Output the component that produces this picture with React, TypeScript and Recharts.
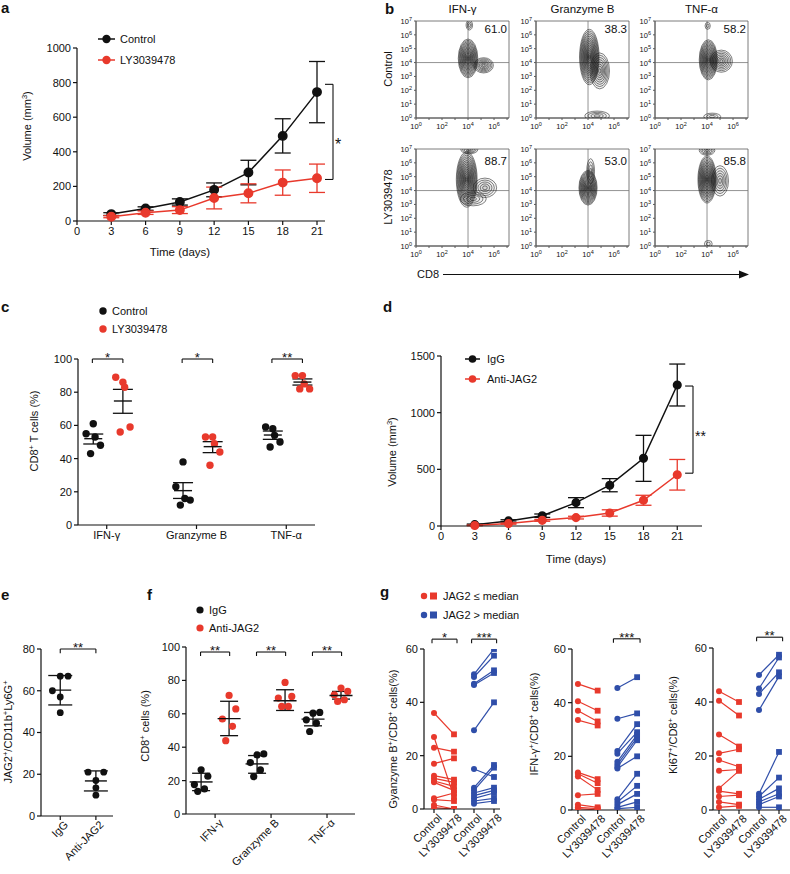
import React from 'react';
import {
  LineChart,
  Line,
  ScatterChart,
  Scatter,
  XAxis,
  YAxis,
  ErrorBar,
  ReferenceLine,
  ReferenceArea,
} from 'recharts';

const FONT = '"Liberation Sans", Arial, Helvetica, sans-serif';
const BLACK = '#111111';
const RED = '#e8392c';
const BLUE = '#2f4ea9';
const FLOW_LINE = '#5a5a5a';

// a: tumour volume, control vs LY3039478
const daysA = [3, 6, 9, 12, 15, 18, 21];
const ctrlA = [40, 72, 110, 180, 280, 492, 745];
const ctrlAErr = [8, 10, 18, 40, 71, 99, 177];
const lyA = [25, 48, 63, 133, 160, 222, 247];
const lyAErr = [6, 10, 20, 63, 55, 73, 82];
const dayTicks = [0, 3, 6, 9, 12, 15, 18, 21];

// d: tumour volume, IgG vs anti-JAG2
const iggD = [12, 45, 91, 206, 360, 597, 1244];
const iggDErr = [5, 10, 15, 44, 58, 203, 185];
const antiD = [5, 21, 50, 74, 115, 227, 452];
const antiDErr = [3, 5, 8, 12, 28, 44, 135];

// b: flow contour blobs (log10 centre, radii in decades, ring count)
const flowCtrlIfn = [
  { x: 4.0, y: 4.3, rx: 0.75, ry: 1.4, n: 15 },
  { x: 5.2, y: 3.8, rx: 0.75, ry: 0.55, n: 7 },
  { x: 4.1, y: 6.7, rx: 0.25, ry: 0.35, n: 3 },
];
const flowCtrlGzm = [
  { x: 4.1, y: 4.4, rx: 0.75, ry: 2.0, n: 16 },
  { x: 4.9, y: 3.4, rx: 0.75, ry: 1.3, n: 8 },
  { x: 4.7, y: 0.15, rx: 0.95, ry: 0.35, n: 4 },
];
const flowCtrlTnf = [
  { x: 4.1, y: 4.2, rx: 0.7, ry: 1.45, n: 15 },
  { x: 5.1, y: 4.1, rx: 0.85, ry: 0.8, n: 7 },
  { x: 4.05, y: 6.65, rx: 0.2, ry: 0.25, n: 2 },
  { x: 4.4, y: 0.1, rx: 0.65, ry: 0.25, n: 3 },
];
const flowLyIfn = [
  { x: 3.9, y: 4.8, rx: 0.8, ry: 2.0, n: 16 },
  { x: 4.1, y: 6.95, rx: 0.65, ry: 0.3, n: 5 },
  { x: 5.3, y: 4.2, rx: 0.9, ry: 0.7, n: 5 },
  { x: 4.4, y: 3.4, rx: 1.0, ry: 0.5, n: 4 },
];
const flowLyGzm = [
  { x: 4.0, y: 4.2, rx: 0.7, ry: 1.25, n: 15 },
  { x: 4.2, y: 5.4, rx: 0.3, ry: 0.9, n: 4 },
];
const flowLyTnf = [
  { x: 4.0, y: 4.8, rx: 0.7, ry: 1.7, n: 16 },
  { x: 4.0, y: 6.9, rx: 0.6, ry: 0.35, n: 5 },
  { x: 5.0, y: 4.7, rx: 0.65, ry: 1.1, n: 6 },
  { x: 4.1, y: 0.15, rx: 0.3, ry: 0.25, n: 2 },
];
const flowTitles = ['IFN-γ', 'Granzyme B', 'TNF-α'];
const flowPctCtrl = ['61.0', '38.3', '58.2'];
const flowPctLy = ['88.7', '53.0', '85.8'];

// c: CD8+ T cells (%)
const cytokines = ['IFN-γ', 'Granzyme B', 'TNF-α'];
const cCtrl = [[61, 55, 53, 48, 43], [38, 23, 16, 15, 12], [58, 59, 54, 50, 47]];
const cLy = [[86, 89, 83, 59, 56], [53, 53, 49, 44, 36], [90, 90, 85, 82, 82]];
const cCtrlMean = [52, 20.7, 54.2];
const cCtrlSem = [[48.8, 54.8], [16, 25.5], [51.6, 56.6]];
const cLyMean = [74.7, 47.2, 86.1];
const cLySem = [[67.3, 81.7], [43.6, 50.2], [84.3, 88]];
const cSig = ['*', '*', '**'];

// e: JAG2+ of CD11b+Ly6G+
const eGroups = ['IgG', 'Anti-JAG2'];
const eVals = [[67, 67, 60, 57, 49.5], [17, 21, 21, 10, 13.5]];
const eMean = [60.3, 16.8];
const eSd = [[53.2, 67.3], [12, 21.6]];

// f: CD8+ cells (%)
const fIgg = [[26.5, 22.6, 17.6, 15, 13.6], [35.4, 36, 30.8, 26.4, 22.4], [60.4, 60.8, 56.4, 54.4, 49.4]];
const fAnti = [[71, 62.9, 56.9, 52.5, 43.9], [78.8, 70.4, 69.4, 64.4, 64.4], [75.4, 73.4, 71.4, 68.4, 67.4]];
const fIggMean = [19.2, 30, 56.8];
const fIggSd = [[14, 24.4], [24.4, 35], [52.8, 60.8]];
const fAntiMean = [57.1, 67.8, 71];
const fAntiSd = [[46.9, 67.5], [62, 74.4], [68.8, 73.4]];

// g: paired patient samples (control -> LY3039478)
const gLabels = ['', 'Control', 'LY3039478', 'Control', 'LY3039478'];
const gGzmRedCtrl = [36, 27, 23, 17, 12.5, 11.5, 10.5, 10, 4, 3.5, 1.5, 0.5];
const gGzmRedLy = [28, 4.5, 21.5, 19, 11, 10, 8.5, 7, 6, 3, 0, 0];
const gGzmBlueCtrl = [50.5, 49.5, 47, 46.5, 29.5, 15, 8, 7, 6, 5, 4, 3, 2];
const gGzmBlueLy = [60, 57.5, 52, 51, 40, 12, 16.5, 15.5, 8, 7, 6, 4, 3];
const gIfnRedCtrl = [47, 40.5, 37, 33.5, 14, 13.5, 12.5, 5.5, 2, 1, 0.5];
const gIfnRedLy = [44.5, 37, 33, 31.5, 11.5, 10, 7.5, 6, 1, 0.5, 0];
const gIfnBlueCtrl = [45.5, 34, 22, 21, 18, 17, 16, 15.5, 4, 3, 2, 1, 0.5];
const gIfnBlueLy = [49.5, 36, 32, 29, 28, 27, 26, 20, 13.5, 9, 6, 3, 1];
const gKiRedCtrl = [44, 40.5, 28, 21, 18.5, 14.5, 8, 7, 5, 3, 1];
const gKiRedLy = [40, 35, 23.5, 22.5, 16, 15, 14.5, 6, 5.5, 2, 1.5];
const gKiBlueCtrl = [50, 45, 43, 37, 6, 5, 4, 3, 2, 1];
const gKiBlueLy = [57.5, 56.5, 51, 49.5, 21.5, 12, 8, 6, 5, 1];

const aData = daysA.map((d, i) => ({ day: d, ctrl: ctrlA[i], ctrlErr: ctrlAErr[i], ly: lyA[i], lyErr: lyAErr[i] }));
const dData = daysA.map((d, i) => ({ day: d, igg: iggD[i], iggErr: iggDErr[i], anti: antiD[i], antiErr: antiDErr[i] }));

const ax = {
  stroke: BLACK,
  axisLine: { stroke: BLACK, strokeWidth: 1.2 },
  tickLine: { stroke: BLACK, strokeWidth: 1.2 },
  tick: { fill: BLACK, fontSize: 11, fontFamily: FONT },
  tickSize: 4,
};

const bracket = (key: string, x1: number, x2: number, y: number, drop: number, text: string, fs = 13) => [
  <ReferenceLine key={key + 'l'} segment={[{ x: x1, y: y - drop }, { x: x1, y }]} stroke={BLACK} strokeWidth={1.1} ifOverflow="visible" />,
  <ReferenceLine
    key={key + 'm'}
    segment={[{ x: x1, y }, { x: x2, y }]}
    stroke={BLACK}
    strokeWidth={1.1}
    ifOverflow="visible"
    label={{ value: text, position: 'top', offset: -3, fill: BLACK, fontSize: fs, fontFamily: FONT }}
  />,
  <ReferenceLine key={key + 'r'} segment={[{ x: x2, y }, { x: x2, y: y - drop }]} stroke={BLACK} strokeWidth={1.1} ifOverflow="visible" />,
];

const sideBracket = (key: string, x1: number, x2: number, yTop: number, yBot: number) => [
  <ReferenceLine key={key + 't'} segment={[{ x: x1, y: yTop }, { x: x2, y: yTop }]} stroke={BLACK} strokeWidth={1.1} ifOverflow="visible" />,
  <ReferenceLine key={key + 'v'} segment={[{ x: x2, y: yTop }, { x: x2, y: yBot }]} stroke={BLACK} strokeWidth={1.1} ifOverflow="visible" />,
  <ReferenceLine key={key + 'b'} segment={[{ x: x2, y: yBot }, { x: x1, y: yBot }]} stroke={BLACK} strokeWidth={1.1} ifOverflow="visible" />,
];

const rotTick = (labels: string[]) => (p: any) => (
  <g transform={`translate(${p.x + 3},${p.y - 2}) rotate(-45)`}>
    <text textAnchor="end" dy="0.71em" fontSize={11} fill={BLACK} fontFamily={FONT}>
      {labels[p.payload.value]}
    </text>
  </g>
);

function VolumeChart(props: { data: any[]; left: number; top: number; width: number; height: number; margin: any; xMax: number; yMax: number; yTicks: number[]; keys: string[]; r: number; bracketEnds: number[] }) {
  const { data, left, top, width, height, margin, xMax, yMax, yTicks, keys, r, bracketEnds } = props;
  return (
    <div style={{ position: 'absolute', left, top }}>
      <LineChart width={width} height={height} data={data} margin={margin}>
        <XAxis type="number" dataKey="day" domain={[0, xMax]} ticks={dayTicks} interval={0} height={30} allowDataOverflow {...ax} />
        <YAxis type="number" domain={[0, yMax]} ticks={yTicks} interval={0} width={45} {...ax} />
        {sideBracket('s', 21.7, 22.4, bracketEnds[0], bracketEnds[1])}
        <Line dataKey={keys[0]} stroke={BLACK} strokeWidth={1.5} dot={{ r, fill: BLACK, stroke: BLACK }} isAnimationActive={false}>
          <ErrorBar dataKey={keys[0] + 'Err'} direction="y" width={8} stroke={BLACK} strokeWidth={1.3} />
        </Line>
        <Line dataKey={keys[1]} stroke={RED} strokeWidth={1.5} dot={{ r, fill: RED, stroke: RED }} isAnimationActive={false}>
          <ErrorBar dataKey={keys[1] + 'Err'} direction="y" width={8} stroke={RED} strokeWidth={1.3} />
        </Line>
      </LineChart>
    </div>
  );
}

// flow plots
const FLOW_W = 93;
const FLOW_H = 97;
const FLOW_XMAX = 7.15;
const FLOW_YMAX = 7;
const FLOW_PAD = 6;
const PX_X = FLOW_W / FLOW_XMAX;
const PX_Y = FLOW_H / FLOW_YMAX;

const ContourShape = (p: any) => {
  const { cx, cy, payload } = p;
  const rings = [];
  for (let i = 0; i < payload.n; i++) {
    const s = 1 - i / payload.n;
    rings.push(
      <ellipse
        key={i}
        cx={cx}
        cy={cy}
        rx={payload.rx * PX_X * s}
        ry={payload.ry * PX_Y * s}
        fill="#000"
        fillOpacity={0.035}
        stroke="#1c1c1c"
        strokeWidth={0.55}
      />
    );
  }
  return <g>{rings}</g>;
};

const FlowYTick = (p: any) => (
  <text x={p.x} y={p.y} dy={3} textAnchor="end" fontSize={7.5} fill={BLACK} fontFamily={FONT}>
    10<tspan dy={-3} fontSize={5.5}>{p.payload.value}</tspan>
  </text>
);

const FlowXTick = (p: any) =>
  p.payload.value % 2 === 0 ? (
    <text x={p.x} y={p.y} dy={7} textAnchor="middle" fontSize={7.5} fill={BLACK} fontFamily={FONT}>
      10<tspan dy={-3} fontSize={5.5}>{p.payload.value}</tspan>
    </text>
  ) : (
    <g />
  );

function FlowPlot(props: { left: number; top: number; pops: any[] }) {
  const { left, top, pops } = props;
  return (
    <div style={{ position: 'absolute', left: left - 25, top: top - FLOW_PAD }}>
      <ScatterChart width={25 + FLOW_W + 5} height={FLOW_PAD + FLOW_H + 16} margin={{ top: FLOW_PAD, right: 5, left: 0, bottom: 0 }}>
        <XAxis type="number" dataKey="x" domain={[0, FLOW_XMAX]} ticks={[0, 1, 2, 3, 4, 5, 6, 7]} interval={0} height={16} tickSize={2} stroke={FLOW_LINE} tick={FlowXTick} allowDataOverflow />
        <YAxis type="number" dataKey="y" domain={[0, FLOW_YMAX]} ticks={[0, 1, 2, 3, 4, 5, 6, 7]} interval={0} width={25} tickSize={2} stroke={FLOW_LINE} tick={FlowYTick} allowDataOverflow />
        <ReferenceArea x1={0} x2={FLOW_XMAX} y1={0} y2={FLOW_YMAX} fill="none" stroke={FLOW_LINE} strokeWidth={0.8} />
        <ReferenceLine x={4} stroke="#777" strokeWidth={0.8} />
        <ReferenceLine y={4} stroke="#777" strokeWidth={0.8} />
        <Scatter data={pops} shape={ContourShape} isAnimationActive={false} />
      </ScatterChart>
    </div>
  );
}

// dot plots with mean and error
const dotsFrom = (groups: number[][], offset: number, jit: number[]) =>
  groups.flatMap((vals, i) => vals.map((v, j) => ({ x: i + offset + jit[j % jit.length], y: v })));
const summaryFrom = (means: number[], bounds: number[][], offset: number) =>
  means.map((m, i) => ({ x: i + offset, y: m, err: [m - bounds[i][0], bounds[i][1] - m] }));

const dotShape = (color: string, r: number) => (p: any) => <circle cx={p.cx} cy={p.cy} r={r} fill={color} />;
const meanBar = (hw: number) => (p: any) => (
  <line x1={p.cx - hw} x2={p.cx + hw} y1={p.cy} y2={p.cy} stroke={BLACK} strokeWidth={1.4} />
);

type Group = { vals: number[][]; mean: number[]; bounds: number[][]; color: string; offset: number };

function DotPanel(props: {
  left: number; top: number; width: number; height: number; margin: any; yW: number; xH: number;
  xDomain: number[]; yDomain: number[]; yTicks: number[]; cats: string[]; rotate: boolean;
  groups: Group[]; jit: number[]; meanHW: number; capW: number; dotR: number; brackets: any[];
}) {
  const p = props;
  const tick = p.rotate ? rotTick(p.cats) : { ...ax.tick };
  return (
    <div style={{ position: 'absolute', left: p.left, top: p.top }}>
      <ScatterChart width={p.width} height={p.height} margin={p.margin}>
        <XAxis
          type="number"
          dataKey="x"
          domain={p.xDomain}
          ticks={p.cats.map((_, i) => i)}
          tickFormatter={(v: number) => p.cats[v]}
          interval={0}
          height={p.xH}
          allowDataOverflow
          {...ax}
          tick={tick}
        />
        <YAxis type="number" dataKey="y" domain={p.yDomain} ticks={p.yTicks} interval={0} width={p.yW} {...ax} />
        {p.brackets}
        {p.groups.map((g, k) => (
          <Scatter key={'d' + k} data={dotsFrom(g.vals, g.offset, p.jit)} shape={dotShape(g.color, p.dotR)} isAnimationActive={false} />
        ))}
        {p.groups.map((g, k) => (
          <Scatter key={'m' + k} data={summaryFrom(g.mean, g.bounds, g.offset)} shape={meanBar(p.meanHW)} isAnimationActive={false}>
            <ErrorBar dataKey="err" direction="y" width={p.capW} stroke={BLACK} strokeWidth={1.3} />
          </Scatter>
        ))}
      </ScatterChart>
    </div>
  );
}

// paired line plots
const pairDot = (color: string) => (p: any) =>
  p.index === 0 ? (
    <circle key={'c' + p.index} cx={p.cx} cy={p.cy} r={3} fill={color} />
  ) : (
    <rect key={'r' + p.index} x={p.cx - 2.9} y={p.cy - 2.9} width={5.8} height={5.8} fill={color} />
  );

function PairPanel(props: {
  left: number; width: number; margin: any; xDomain: number[];
  redCtrl: number[]; redLy: number[]; blueCtrl: number[]; blueLy: number[]; brackets: any[];
}) {
  const p = props;
  const pairs = [
    ...p.redCtrl.map((v, i) => ({ color: RED, data: [{ x: 1, v }, { x: 2, v: p.redLy[i] }] })),
    ...p.blueCtrl.map((v, i) => ({ color: BLUE, data: [{ x: 3, v }, { x: 4, v: p.blueLy[i] }] })),
  ];
  return (
    <div style={{ position: 'absolute', left: p.left, top: 580 }}>
      <LineChart width={p.width} height={294} margin={p.margin}>
        <XAxis type="number" dataKey="x" domain={p.xDomain} ticks={[1, 2, 3, 4]} interval={0} height={60} allowDataOverflow {...ax} tick={rotTick(gLabels)} />
        <YAxis type="number" domain={[0, 60]} ticks={[0, 20, 40, 60]} interval={0} width={28} allowDataOverflow {...ax} />
        {p.brackets}
        {pairs.map((pr, i) => (
          <Line key={i} data={pr.data} dataKey="v" stroke={pr.color} strokeWidth={1.2} dot={pairDot(pr.color)} isAnimationActive={false} />
        ))}
      </LineChart>
    </div>
  );
}

const txt = { fontFamily: FONT, fill: BLACK };

function VLabel(props: { x: number; y: number; children: any; size?: number }) {
  return (
    <text transform={`translate(${props.x},${props.y}) rotate(-90)`} textAnchor="middle" fontSize={props.size || 11} {...txt}>
      {props.children}
    </text>
  );
}

const sup = (s: string) => (
  <tspan baselineShift="super" fontSize={7.5}>
    {s}
  </tspan>
);

const flowLeft = [416, 536, 655];
const flowTop = [21, 149];

export default function App() {
  return (
    <div style={{ position: 'absolute', left: 0, top: 0, width: 790, height: 874, background: '#fff', fontFamily: FONT }}>
      <VolumeChart
        data={aData}
        left={0}
        top={0}
        width={345}
        height={262}
        margin={{ top: 48, right: 20, left: 32, bottom: 11 }}
        xMax={21.7}
        yMax={1000}
        yTicks={[0, 200, 400, 600, 800, 1000]}
        keys={['ctrl', 'ly']}
        r={4.2}
        bracketEnds={[790, 240]}
      />

      <FlowPlot left={flowLeft[0]} top={flowTop[0]} pops={flowCtrlIfn} />
      <FlowPlot left={flowLeft[1]} top={flowTop[0]} pops={flowCtrlGzm} />
      <FlowPlot left={flowLeft[2]} top={flowTop[0]} pops={flowCtrlTnf} />
      <FlowPlot left={flowLeft[0]} top={flowTop[1]} pops={flowLyIfn} />
      <FlowPlot left={flowLeft[1]} top={flowTop[1]} pops={flowLyGzm} />
      <FlowPlot left={flowLeft[2]} top={flowTop[1]} pops={flowLyTnf} />

      <DotPanel
        left={0}
        top={290}
        width={340}
        height={280}
        margin={{ top: 69, right: 25, left: 33, bottom: 15 }}
        yW={45}
        xH={30}
        xDomain={[-0.32, 2.32]}
        yDomain={[0, 100]}
        yTicks={[0, 20, 40, 60, 80, 100]}
        cats={cytokines}
        rotate={false}
        groups={[
          { vals: cCtrl, mean: cCtrlMean, bounds: cCtrlSem, color: BLACK, offset: -0.15 },
          { vals: cLy, mean: cLyMean, bounds: cLySem, color: RED, offset: 0.18 },
        ]}
        jit={[0, -0.08, 0.02, 0.08, -0.03]}
        meanHW={9}
        capW={10}
        dotR={3.7}
        brackets={cSig.flatMap((s, i) => bracket('c' + i, i - 0.16, i + 0.18, 100, 2.4, s))}
      />

      <VolumeChart
        data={dData}
        left={390}
        top={290}
        width={340}
        height={280}
        margin={{ top: 66, right: 28, left: 6, bottom: 14 }}
        xMax={23.2}
        yMax={1500}
        yTicks={[0, 500, 1000, 1500]}
        keys={['igg', 'anti']}
        r={3.8}
        bracketEnds={[1235, 466]}
      />

      <DotPanel
        left={0}
        top={580}
        width={130}
        height={294}
        margin={{ top: 69, right: 17, left: 11, bottom: 8 }}
        yW={30}
        xH={50}
        xDomain={[-0.54, 1.48]}
        yDomain={[0, 80]}
        yTicks={[0, 20, 40, 60, 80]}
        cats={eGroups}
        rotate={true}
        groups={[{ vals: eVals, mean: eMean, bounds: eSd, color: BLACK, offset: 0 }]}
        jit={[0, 0.22, -0.22, 0, 0]}
        meanHW={11}
        capW={12}
        dotR={3.4}
        brackets={bracket('e', 0, 1, 80, 2, '**')}
      />

      <DotPanel
        left={130}
        top={580}
        width={235}
        height={294}
        margin={{ top: 67, right: 10, left: 26, bottom: 10 }}
        yW={30}
        xH={50}
        xDomain={[-0.52, 2.5]}
        yDomain={[0, 100]}
        yTicks={[0, 20, 40, 60, 80, 100]}
        cats={cytokines}
        rotate={true}
        groups={[
          { vals: fIgg, mean: fIggMean, bounds: fIggSd, color: BLACK, offset: -0.25 },
          { vals: fAnti, mean: fAntiMean, bounds: fAntiSd, color: RED, offset: 0.25 },
        ]}
        jit={[0, 0.12, -0.12, 0.06, -0.06]}
        meanHW={11.5}
        capW={9}
        dotR={3.6}
        brackets={[0, 1, 2].flatMap((i) => bracket('f' + i, i - 0.26, i + 0.26, 97, 2.4, '**'))}
      />

      <PairPanel
        left={390}
        width={115}
        margin={{ top: 69, right: 5, left: 6, bottom: 5 }}
        xDomain={[0.5, 4.3]}
        redCtrl={gGzmRedCtrl}
        redLy={gGzmRedLy}
        blueCtrl={gGzmBlueCtrl}
        blueLy={gGzmBlueLy}
        brackets={[...bracket('g1a', 0.9, 2.15, 63.7, 1.5, '*'), ...bracket('g1b', 2.88, 4.13, 63.7, 1.5, '***')]}
      />
      <PairPanel
        left={540}
        width={110}
        margin={{ top: 69, right: 5, left: 4, bottom: 4 }}
        xDomain={[0.7, 4.4]}
        redCtrl={gIfnRedCtrl}
        redLy={gIfnRedLy}
        blueCtrl={gIfnBlueCtrl}
        blueLy={gIfnBlueLy}
        brackets={bracket('g2', 2.8, 4.15, 63.8, 1.5, '***')}
      />
      <PairPanel
        left={680}
        width={110}
        margin={{ top: 68, right: 0, left: 5, bottom: 4 }}
        xDomain={[0.7, 4.55]}
        redCtrl={gKiRedCtrl}
        redLy={gKiRedLy}
        blueCtrl={gKiBlueCtrl}
        blueLy={gKiBlueLy}
        brackets={bracket('g3', 2.88, 4.18, 64, 1.5, '**')}
      />

      <svg width={790} height={874} style={{ position: 'absolute', left: 0, top: 0, pointerEvents: 'none' }}>
        {/* panel letters */}
        <g fontSize={15} fontWeight="bold" {...txt}>
          <text x={1} y={13}>a</text>
          <text x={385} y={14}>b</text>
          <text x={1} y={312}>c</text>
          <text x={383} y={312}>d</text>
          <text x={1} y={600}>e</text>
          <text x={147} y={600}>f</text>
          <text x={380} y={597}>g</text>
        </g>

        {/* a */}
        <line x1={98} x2={115} y1={39} y2={39} stroke={BLACK} strokeWidth={1.5} />
        <circle cx={106.5} cy={39} r={4.2} fill={BLACK} />
        <text x={120} y={43} fontSize={11} {...txt}>Control</text>
        <line x1={98} x2={115} y1={60} y2={60} stroke={RED} strokeWidth={1.5} />
        <circle cx={106.5} cy={60} r={4.2} fill={RED} />
        <text x={120} y={64} fontSize={11} {...txt}>LY3039478</text>
        <VLabel x={31} y={126}>Volume (mm{sup('3')})</VLabel>
        <text x={180} y={256} fontSize={11.5} textAnchor="middle" {...txt}>Time (days)</text>
        <text x={335} y={150} fontSize={16} {...txt}>*</text>

        {/* b */}
        {flowTitles.map((t, i) => (
          <text key={t} x={flowLeft[i] + FLOW_W / 2} y={13} fontSize={11.5} textAnchor="middle" {...txt}>{t}</text>
        ))}
        {flowPctCtrl.map((t, i) => (
          <text key={'pc' + i} x={flowLeft[i] + FLOW_W - 2} y={33} fontSize={11.5} textAnchor="end" {...txt}>{t}</text>
        ))}
        {flowPctLy.map((t, i) => (
          <text key={'pl' + i} x={flowLeft[i] + FLOW_W - 2} y={165} fontSize={11.5} textAnchor="end" {...txt}>{t}</text>
        ))}
        <VLabel x={392} y={69}>Control</VLabel>
        <VLabel x={392} y={197}>LY3039478</VLabel>
        <text x={417} y={278} fontSize={11} {...txt}>CD8</text>
        <line x1={443} x2={741} y1={274.5} y2={274.5} stroke={BLACK} strokeWidth={1.2} />
        <polygon points="739,270.5 749,274.5 739,278.5" fill={BLACK} />

        {/* c */}
        <circle cx={103} cy={311} r={3.7} fill={BLACK} />
        <text x={112} y={315} fontSize={11} {...txt}>Control</text>
        <circle cx={103} cy={329} r={3.7} fill={RED} />
        <text x={112} y={333} fontSize={11} {...txt}>LY3039478</text>
        <VLabel x={38} y={431}>CD8{sup('+')} T cells (%)</VLabel>

        {/* d */}
        <line x1={465} x2={480} y1={359} y2={359} stroke={BLACK} strokeWidth={1.5} />
        <circle cx={472.5} cy={359} r={3.8} fill={BLACK} />
        <text x={487} y={363} fontSize={11} {...txt}>IgG</text>
        <line x1={465} x2={480} y1={379} y2={379} stroke={RED} strokeWidth={1.5} />
        <circle cx={472.5} cy={379} r={3.8} fill={RED} />
        <text x={487} y={383} fontSize={11} {...txt}>Anti-JAG2</text>
        <VLabel x={396} y={452}>Volume (mm{sup('3')})</VLabel>
        <text x={576} y={563} fontSize={11.5} textAnchor="middle" {...txt}>Time (days)</text>
        <text x={695} y={441} fontSize={14} {...txt}>**</text>

        {/* e */}
        <VLabel x={12} y={732}>JAG2{sup('+')}/CD11b{sup('+')}Ly6G{sup('+')}</VLabel>

        {/* f */}
        <circle cx={200} cy={610} r={3.6} fill={BLACK} />
        <text x={209} y={614} fontSize={11} {...txt}>IgG</text>
        <circle cx={200} cy={628} r={3.6} fill={RED} />
        <text x={209} y={632} fontSize={11} {...txt}>Anti-JAG2</text>
        <VLabel x={149} y={726}>CD8{sup('+')} cells (%)</VLabel>

        {/* g */}
        <circle cx={424} cy={596} r={3.2} fill={RED} />
        <rect x={430} y={592.5} width={7} height={7} fill={RED} />
        <text x={443} y={600} fontSize={11} {...txt}>JAG2 ≤ median</text>
        <circle cx={424} cy={615} r={3.2} fill={BLUE} />
        <rect x={430} y={611.5} width={7} height={7} fill={BLUE} />
        <text x={443} y={619} fontSize={11} {...txt}>JAG2 &gt; median</text>
        <VLabel x={397} y={739}>Gyanzyme B{sup('+')}/CD8{sup('+')} cells(%)</VLabel>
        <VLabel x={538} y={724}>IFN-γ{sup('+')}/CD8{sup('+')} cells(%)</VLabel>
        <VLabel x={677} y={725}>Ki67{sup('+')}/CD8{sup('+')} cells(%)</VLabel>
      </svg>
    </div>
  );
}
